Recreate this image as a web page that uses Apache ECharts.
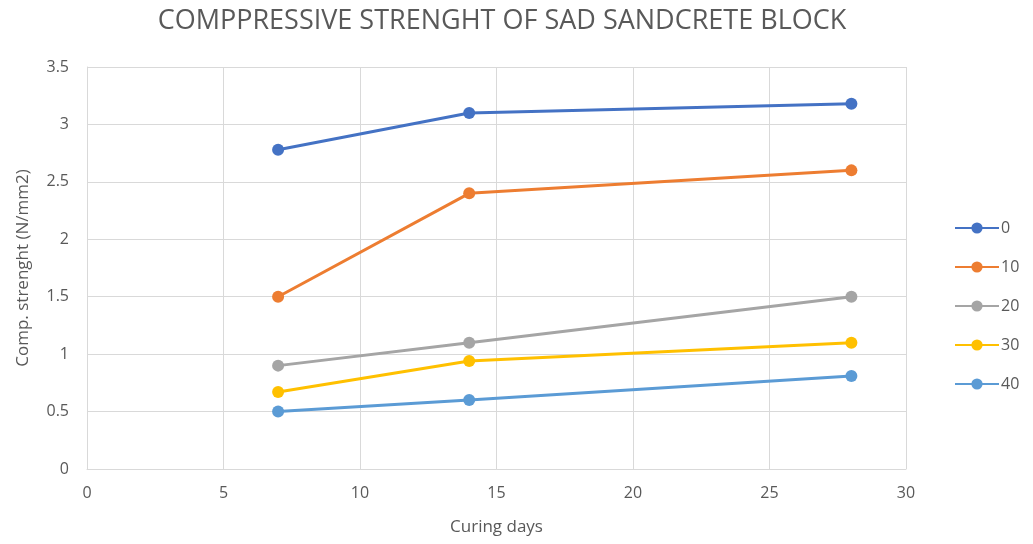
<!DOCTYPE html>
<html>
<head>
<meta charset="utf-8">
<script src="https://cdn.jsdelivr.net/npm/echarts@6/dist/echarts.min.js"></script>
<style>
	html, body { margin: 0; padding: 0; background: #fff; }
	#chart { width: 1033px; height: 544px; }
</style>
</head>
<body>
<div id="chart"></div>
<script>
	const days = [7, 14, 28];
	const seriesNames = ["0", "10", "20", "30", "40"];
	const s0 = [2.78, 3.1, 3.18];
	const s10 = [1.5, 2.4, 2.6];
	const s20 = [0.9, 1.1, 1.5];
	const s30 = [0.67, 0.94, 1.1];
	const s40 = [0.5, 0.6, 0.81];
	const colors = ["#4472C4", "#ED7D31", "#A5A5A5", "#FFC000", "#5B9BD5"];

	const values = [s0, s10, s20, s30, s40];
	const font = "'Open Sans', 'Liberation Sans', sans-serif";
	const textColor = "#595959";

	const chart = echarts.init(document.getElementById("chart"));
	chart.setOption({
		animation: false,
		color: colors,
		title: {
			text: "COMPPRESSIVE STRENGHT OF SAD SANDCRETE BLOCK",
			left: 497,
			textAlign: "center",
			top: 3,
			textStyle: { color: textColor, fontFamily: font, fontSize: 27, fontWeight: "normal" }
		},
		legend: {
			orient: "vertical",
			left: 949,
			top: 215,
			itemGap: 23,
			itemWidth: 44,
			itemHeight: 14,
			textStyle: { color: textColor, fontFamily: font, fontSize: 16, padding: [0, 0, 0, -3] },
			data: seriesNames
		},
		grid: { left: 87, right: 127, top: 67, bottom: 75, containLabel: false },
		xAxis: {
			type: "value",
			min: 0,
			max: 30,
			interval: 5,
			name: "Curing days",
			nameLocation: "middle",
			nameGap: 50,
			nameTextStyle: { color: textColor, fontFamily: font, fontSize: 17 },
			axisLine: { show: true, lineStyle: { color: "#d9d9d9" } },
			axisTick: { show: false },
			axisLabel: { color: textColor, fontFamily: font, fontSize: 16, margin: 16 },
			splitLine: { show: true, lineStyle: { color: "#d9d9d9" } }
		},
		yAxis: {
			type: "value",
			min: 0,
			max: 3.5,
			interval: 0.5,
			name: "Comp. strenght (N/mm2)",
			nameLocation: "middle",
			nameGap: 55,
			nameTextStyle: { color: textColor, fontFamily: font, fontSize: 17 },
			axisLine: { show: true, lineStyle: { color: "#d9d9d9" } },
			axisTick: { show: false },
			axisLabel: { color: textColor, fontFamily: font, fontSize: 16, margin: 18 },
			splitLine: { show: true, lineStyle: { color: "#d9d9d9" } }
		},
		series: seriesNames.map((name, i) => ({
			name,
			type: "line",
			data: days.map((d, j) => [d, values[i][j]]),
			symbol: "circle",
			symbolSize: 12,
			lineStyle: { width: 3 },
			itemStyle: { color: colors[i] }
		}))
	});
</script>
</body>
</html>
